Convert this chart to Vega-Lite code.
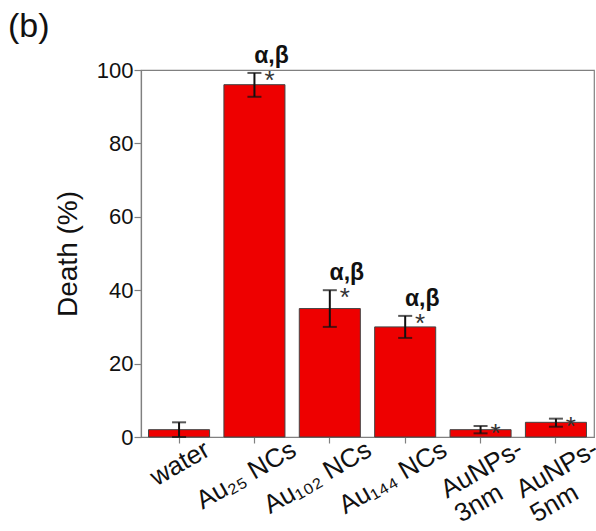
{
  "$schema": "https://vega.github.io/schema/vega-lite/v6.json",
  "width": 453,
  "height": 367,
  "autosize": {"type": "none"},
  "padding": {"left": 141, "top": 70, "right": 2, "bottom": 94},
  "background": "white",
  "title": {"text": "(b)", "anchor": "start", "frame": "group", "dx": -133, "dy": 53, "offset": 27, "baseline": "alphabetic", "fontSize": 34, "font": "Liberation Sans", "fontWeight": "normal", "color": "#111"},
  "config": {
    "view": {"stroke": "#808080", "strokeWidth": 1.2},
    "font": "Liberation Sans"
  },
  "data": {"values": [
    {"group": "water", "death": 2, "lo": 0, "hi": 4, "star": "", "sig": ""},
    {"group": "Au₂₅ NCs", "death": 96, "lo": 92.7, "hi": 99.2, "star": "*", "sig": "α,β"},
    {"group": "Au₁₀₂ NCs", "death": 35, "lo": 30, "hi": 40, "star": "*", "sig": "α,β"},
    {"group": "Au₁₄₄ NCs", "death": 30, "lo": 27, "hi": 33, "star": "*", "sig": "α,β"},
    {"group": "AuNPs-|3nm", "death": 2, "lo": 1, "hi": 3, "star": "*", "sig": ""},
    {"group": "AuNPs-|5nm", "death": 4, "lo": 2.8, "hi": 5, "star": "*", "sig": ""}
  ]},
  "encoding": {
    "x": {
      "field": "group", "type": "nominal", "sort": null,
      "scale": {"paddingInner": 0.19, "paddingOuter": 0.1},
      "axis": {
        "title": null,
        "labelAngle": -30,
        "labelAlign": {"condition": {"test": "indexof(datum.value, '|') >= 0", "value": "left"}, "value": "right"},
        "labelBaseline": "top",
        "labelPadding": {"condition": {"test": "indexof(datum.value, '|') >= 0", "value": 37}, "value": -7},
        "labelOffset": {"condition": [
          {"test": "indexof(datum.value, '|') >= 0", "value": -44},
          {"test": "datum.value == 'water'", "value": 22}
        ], "value": 33},
        "labelFontSize": 26,
        "labelColor": "#111",
        "labelFont": "Liberation Sans",
        "labelExpr": "split(datum.label, '|')",
        "labelLineHeight": 28,
        "labelOverlap": false,
        "labelBound": false,
        "domainColor": "#808080",
        "domainWidth": 1.2,
        "tickColor": "#808080",
        "tickSize": 6,
        "tickWidth": 1.2
      }
    }
  },
  "layer": [
    {
      "mark": {"type": "bar", "color": "#EE0000", "stroke": "#444", "strokeWidth": 1},
      "encoding": {
        "y": {
          "field": "death", "type": "quantitative",
          "scale": {"domain": [0, 100], "nice": false},
          "axis": {
            "title": "Death (%)",
            "titleFontSize": 28,
            "titleFontWeight": "normal",
            "titleColor": "#111",
            "titleFont": "Liberation Sans",
            "titlePadding": 14,
            "values": [0, 20, 40, 60, 80, 100],
            "grid": false,
            "labelFontSize": 22,
            "labelColor": "#111",
            "labelPadding": 1,
            "domainColor": "#808080",
            "domainWidth": 1.2,
            "tickColor": "#808080",
            "tickSize": 7,
            "tickWidth": 1.2
          }
        }
      }
    },
    {
      "mark": {"type": "rule", "color": "#111", "strokeWidth": 2},
      "encoding": {"y": {"field": "lo", "type": "quantitative"}, "y2": {"field": "hi"}}
    },
    {
      "mark": {"type": "tick", "color": "#111", "thickness": 2, "size": 14},
      "encoding": {"y": {"field": "lo", "type": "quantitative"}}
    },
    {
      "mark": {"type": "tick", "color": "#111", "thickness": 2, "size": 14},
      "encoding": {"y": {"field": "hi", "type": "quantitative"}}
    },
    {
      "mark": {"type": "text", "fontSize": 26, "color": "#333", "dx": 15, "dy": 16, "baseline": "alphabetic", "font": "Liberation Sans"},
      "encoding": {"y": {"field": "hi", "type": "quantitative"}, "text": {"field": "star"}}
    },
    {
      "mark": {"type": "text", "fontSize": 23, "fontWeight": "bold", "color": "#111", "dx": 17, "dy": -10, "baseline": "alphabetic", "font": "Liberation Sans"},
      "encoding": {"y": {"field": "hi", "type": "quantitative"}, "text": {"field": "sig"}}
    }
  ]
}
